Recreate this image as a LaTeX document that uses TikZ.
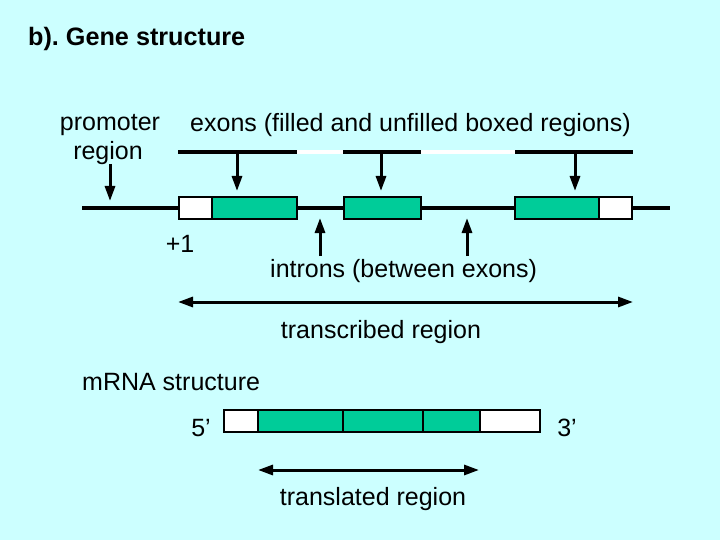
\documentclass[tikz,border=0pt]{standalone}
\usepackage{fontspec}
\setmainfont{Liberation Sans}
\usetikzlibrary{arrows.meta}
\definecolor{bgcyan}{RGB}{204,255,255}
\definecolor{exgreen}{RGB}{0,204,153}
\frenchspacing
\tikzset{
  lbl/.style={font=\fontsize{25}{30}\selectfont, inner sep=0pt},
  ttl/.style={font=\bfseries\fontsize{25.2}{30}\selectfont, inner sep=0pt},
  gbox/.style={draw=black, line width=1.8pt, fill=exgreen, inner sep=0pt, minimum height=22pt},
  wbox/.style={draw=black, line width=1.8pt, fill=white, inner sep=0pt, minimum height=22pt},
  dna/.style={line width=4pt},
  arr/.style={line width=3pt, -{Triangle[length=15pt,width=10pt]}},
  darr/.style={line width=3pt, {Triangle[length=15pt,width=10pt]}-{Triangle[length=15pt,width=10pt]}},
}
\begin{document}
\begin{tikzpicture}[x=1pt,y=-1pt]
\fill[bgcyan] (0,0) rectangle (720,540);
\useasboundingbox (0,0) rectangle (720,540);

\node[ttl, anchor=west] (title) at (28,39) {b).\ Gene structure};
\node[lbl] (prom1) at (110,125) {promoter};
\node[lbl] (prom2) at (108,153) {region};
\node[lbl, anchor=west] (exons) at (190,125) {exons (filled and unfilled boxed regions)};

% upper exon/intron indicator line
\coordinate (u0) at (178,152);
\coordinate (u1) at (297,152);
\coordinate (u2) at (343,152);
\coordinate (u3) at (421,152);
\coordinate (u4) at (515,152);
\coordinate (u5) at (633,152);
\draw[dna] (u0) -- (u1);
\draw[dna, white] (u1) -- (u2);
\draw[dna] (u2) -- (u3);
\draw[dna, white] (u3) -- (u4);
\draw[dna] (u4) -- (u5);

% main DNA line
\coordinate (d0) at (82,208);
\coordinate (d1) at (670,208);
\draw[dna] (d0) -- (d1);

% gene boxes
\node[wbox, minimum width=33pt] (w1) at (195.5,208) {};
\node[gbox, minimum width=85pt] (g1) at (254.5,208) {};
\node[gbox, minimum width=77pt] (g2) at (382.5,208) {};
\node[gbox, minimum width=84pt] (g3) at (557,208) {};
\node[wbox, minimum width=33pt] (w2) at (615.5,208) {};

% exon arrows
\coordinate (a1s) at (237,153);
\coordinate (a1e) at (237,191);
\coordinate (a2s) at (381,153);
\coordinate (a2e) at (381,191);
\coordinate (a3s) at (575,153);
\coordinate (a3e) at (575,191);
\draw[arr] (a1s) -- (a1e);
\draw[arr] (a2s) -- (a2e);
\draw[arr] (a3s) -- (a3e);

% promoter arrow
\coordinate (ps) at (110,164);
\coordinate (pe) at (110,201);
\draw[arr] (ps) -- (pe);

% intron arrows
\coordinate (i1s) at (320,256);
\coordinate (i1e) at (320,218);
\coordinate (i2s) at (467,256);
\coordinate (i2e) at (467,218);
\draw[arr] (i1s) -- (i1e);
\draw[arr] (i2s) -- (i2e);

\node[lbl] (plus1) at (180,244) {+1};
\node[lbl, anchor=west] (introns) at (270,271) {introns (between exons)};

% transcribed region
\coordinate (t0) at (178,302);
\coordinate (t1) at (633,302);
\draw[darr] (t0) -- (t1);
\node[lbl] (trans) at (381,332) {transcribed region};

% mRNA
\node[lbl, anchor=west] (mrna) at (82,382) {mRNA structure};
\node[lbl] (five) at (201,428) {5’};
\node[lbl] (three) at (567,428) {3’};
\node[wbox, minimum width=34pt] (m1) at (241,421) {};
\node[gbox, minimum width=85pt] (m2) at (300.5,421) {};
\node[gbox, minimum width=80pt] (m3) at (383,421) {};
\node[gbox, minimum width=57pt] (m4) at (451.5,421) {};
\node[wbox, minimum width=60pt] (m5) at (510,421) {};

% translated region
\coordinate (r0) at (258,470);
\coordinate (r1) at (479,470);
\draw[darr] (r0) -- (r1);
\node[lbl] (transl) at (373,499) {translated region};
\end{tikzpicture}
\end{document}
